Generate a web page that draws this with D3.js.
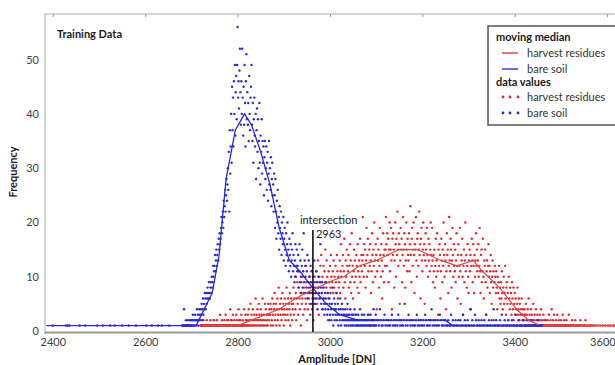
<!DOCTYPE html>
<html>
<head>
<meta charset="utf-8">
<script src="https://cdn.jsdelivr.net/npm/d3@7"></script>
<style>
  body { margin: 0; background: #fff; }
  svg { display: block; font-family: Lato, "Open Sans", sans-serif; }
</style>
</head>
<body>
<svg id="chart" width="615" height="365"></svg>
<script>
// tick labels
const xTicks = [2400, 2600, 2800, 3000, 3200, 3400, 3600];
const yTicks = [0, 10, 20, 30, 40, 50];

// bare soil: isolated single counts in the low tail (frequency 1)
const bareSoilSparseDN = [2400, 2428, 2432, 2436, 2458, 2470, 2496, 2508, 2524, 2534,
  2550, 2564, 2580, 2602, 2614, 2628, 2636, 2652];

// bare soil: one value per DN from 2680 to 3099
const bareSoilStart = 2680;
const bareSoilFreq = [
  1,1,0,1,4,1,1,1,2,1, 1,1,2,1,1,1,2,1,1,2, 1,2,1,3,2,1,2,1,3,2, 2,1,4,2,3,1,2,4,3,2, 4,3,5,2,4,6,3,5,4,7,
  6,4,7,5,6,8,7,6,9,7, 6,8,9,7,10,8,9,12,10,11, 12,14,11,13,15,12,14,16,13,17, 15,18,16,17,19,21,18,20,22,19, 24,21,23,26,22,25,28,24,27,30,
  26,33,22,37,29,34,40,31,45,37, 43,34,46,40,49,36,44,47,39,49, 56,43,46,41,48,52,44,38,46,40, 52,43,36,45,38,49,42,34,46,51, 39,44,38,42,35,47,40,37,43,45,
  49,38,35,42,31,39,43,36,34,40, 28,37,41,33,39,30,35,42,31,27, 36,33,39,29,35,31,34,25,32,35, 28,30,34,26,31,33,24,29,35,27, 30,26,32,23,28,31,25,27,22,29,
  25,19,28,22,17,24,20,26,18,21, 15,23,19,17,22,14,20,18,16,21, 13,17,19,15,12,18,14,16,20,13, 15,11,17,14,12,16,10,13,15,18, 11,14,12,9,13,16,10,12,15,11,
  12,14,8,11,16,9,13,10,7,12, 15,8,11,18,9,13,7,10,12,8, 11,14,6,9,13,7,10,8,12,5, 9,11,7,10,6,8,13,9,5,7, 11,6,9,4,8,10,7,6,9,16,
  8,5,7,9,4,6,8,5,3,7, 4,6,9,5,3,7,4,6,2,5, 3,7,4,2,5,8,3,1,4,6, 2,5,3,4,7,2,3,5,1,4, 3,2,6,4,1,3,5,2,4,3,
  2,3,1,4,2,3,1,2,5,3, 2,1,3,2,4,1,2,3,1,2, 3,1,2,4,2,1,3,2,1,2, 1,3,2,1,2,4,1,2,1,3, 2,1,2,1,3,2,1,2,1,2,
  2,1,3,2,1,2,1,1,3,2, 1,2,2,1,4,2,1,1,2,3
];

// bare soil: every 2nd DN from 3100 to 3460
const bareSoilTailStart = 3100;
const bareSoilTailFreq = [
  1,2,2,1,4,2,1,1,2,3,1,2,1,2,1,
  1,2,3,1,2,1,1,2,1,3,2,1,2,1,1,2,5,1,2,1,3,2,1,2,1,
  2,1,1,2,3,1,2,1,2,1,1,2,1,3,2,1,1,2,1,2,4,1,2,1,2,
  1,1,2,1,3,2,1,1,2,1,2,1,1,2,1,1,3,1,2,1,1,2,1,1,2,
  1,2,1,1,3,1,2,1,1,2,1,1,4,1,2,1,1,3,2,1,1,2,1,1,2,
  1,1,2,1,3,1,1,2,1,1,2,1,4,1,1,2,1,1,1,2,1,3,1,1,2,
  1,1,1,2,1,1,1,2,1,1,1,3,1,1,2,1,1,1,1,2,1,1,1,1,2,
  1,1,1,2,1,1,1,1,1,1,2,1,1,1,1,1
];

// harvest residues: one value per DN from 2720 to 3617
const residueStart = 2720;
const residueFreq = [
  1,1,1,1,1,1,2,1,1,1, 1,1,1,2,1,1,1,1,1,1, 1,2,1,1,1,1,1,1,2,2, 1,1,1,1,1,2,1,1,1,1, 1,1,3,1,1,1,2,1,1,1,
  1,2,1,1,3,1,1,2,1,1, 2,1,1,1,4,1,2,2,1,1, 3,1,1,2,1,1,1,3,1,2, 1,1,4,2,1,1,2,1,3,1, 1,2,1,1,4,1,1,3,2,1,
  2,1,3,1,4,2,1,2,5,1, 3,2,1,4,1,2,3,1,2,6, 1,3,2,4,1,2,5,3,1,2, 4,1,3,2,6,1,2,3,1,5, 2,4,1,3,2,1,5,3,2,4,
  3,5,1,4,2,6,3,1,5,4, 7,2,3,5,1,4,6,2,3,8, 4,1,5,3,6,2,4,7,3,5, 1,4,6,3,2,5,8,4,3,6, 2,5,4,7,1,3,6,5,2,4,
  5,8,3,6,10,4,7,2,6,9, 5,3,8,11,6,4,7,1,9,5, 6,10,3,7,8,4,12,6,5,9, 2,7,4,8,6,10,5,3,9,7, 11,4,6,8,2,7,5,10,6,8,
  7,11,5,9,13,8,3,10,6,12, 9,14,7,4,10,8,12,6,11,9, 15,5,8,13,10,7,2,11,9,6, 12,8,14,10,5,9,11,7,13,8, 10,4,12,9,7,14,11,6,10,8,
  9,13,7,11,16,10,5,12,14,8, 11,17,9,6,13,10,15,12,4,11, 14,8,12,16,9,13,7,18,10,12, 6,11,15,9,13,3,10,14,12,8, 16,11,7,13,10,17,9,12,14,11,
  13,21,14,10,16,12,15,8,13,19, 10,14,17,11,3,15,12,16,13,7, 11,18,14,9,15,12,20,13,10,16, 14,4,11,17,13,15,8,12,19,14, 10,16,13,6,11,18,14,9,15,12,
  15,21,16,12,18,14,17,9,15,20, 11,15,19,13,4,17,14,18,15,8, 13,20,16,10,17,14,22,15,12,18, 16,5,13,19,15,17,9,14,21,15, 12,18,16,8,13,20,15,11,17,14,
  13,18,11,16,23,14,9,17,19,12, 15,20,14,7,16,15,21,13,10,17, 18,12,15,22,14,16,6,17,19,13, 11,15,20,14,16,5,13,18,15,12, 19,14,10,17,13,16,11,15,20,14,
  12,19,13,9,14,11,15,8,12,17, 10,13,18,11,3,15,12,16,14,6, 11,17,13,9,15,12,20,14,10,16, 13,4,11,18,14,15,7,12,21,13, 11,17,15,8,13,19,14,10,16,12,
  11,15,9,13,18,12,6,14,16,10, 12,19,11,5,14,13,17,10,3,12, 15,9,13,20,11,14,8,12,16,10, 7,13,15,11,14,4,12,17,13,9, 16,12,7,14,10,13,18,12,15,11,
  13,16,10,12,19,11,7,14,15,9, 11,17,10,6,13,12,15,9,3,11, 13,8,12,16,10,12,7,11,14,9, 5,10,13,8,11,2,9,12,10,7, 11,8,4,10,7,9,12,6,8,5,
  9,6,11,7,4,8,10,5,7,12, 6,3,8,9,5,7,2,10,6,4, 8,5,7,3,9,6,4,8,2,5, 7,3,6,4,1,5,8,3,4,6, 2,5,3,4,1,6,3,2,4,3,
  2,4,3,1,5,2,3,1,4,2, 6,1,3,2,2,4,1,3,1,2, 5,1,2,3,1,1,4,2,1,3, 1,2,1,1,3,2,1,4,1,2, 1,1,3,1,2,1,1,2,1,1,
  1,2,1,1,3,1,1,2,1,1, 4,1,1,2,1,3,1,1,1,2, 1,1,3,1,1,2,1,1,1,1, 2,1,1,1,3,1,1,2,1,1, 1,1,2,1,1,1,1,3,1,1,
  1,1,0,1,2,1,0,1,1,0, 1,2,0,1,1,0,1,0,1,1, 0,1,2,0,1,0,1,1,0,0, 1,0,1,2,0,1,0,0,1,0, 1,0,0,1,0,1,0,0,1,0,
  0,1,0,0,0,1,0,0,0,0, 1,0,0,0,0,1,0,0,0,0, 0,1,0,0,0,0,1,0,0,0, 0,0,1,0,0,0,0,1,0,0, 0,0,0,1,0,0,1,0
];

// moving medians [DN, frequency]
const bareSoilMedian = [[2386,1],[2710,1],[2745,7],[2760,14],[2775,28],[2795,37],[2815,40],
  [2830,38],[2850,33],[2870,27],[2890,19],[2912,13],[2935,11],[2962,8],[2992,5],[3021,3],
  [3060,2],[3250,2],[3265,1],[3460,1]];
const residueMedian = [[2724,1],[2800,1],[2830,2],[2860,3],[2890,4],[2925,6],[2960,7.5],
  [3005,9.3],[3030,10],[3064,12],[3100,13],[3150,15],[3190,15],[3215,14],[3240,13],[3275,12],
  [3310,13],[3330,11],[3367,8],[3404,4],[3430,2],[3455,1],[3617,1]];

const intersectionDN = 2963;

const blue = "#2a2ad6", red = "#e3282c";

const svg = d3.select("#chart");

const x = d3.scaleLinear().domain([2383, 3617]).range([45, 615]);
const y = d3.scaleLinear().domain([0, 58.4]).range([331, 14]);

function toPoints(start, step, freq) {
  return freq.map((f, i) => ({ dn: start + i * step, f: f })).filter(d => d.f > 0);
}
const bareSoilPts = bareSoilSparseDN.map(dn => ({ dn: dn, f: 1 }))
  .concat(toPoints(bareSoilStart, 1, bareSoilFreq))
  .concat(toPoints(bareSoilTailStart, 2, bareSoilTailFreq));
const residuePts = toPoints(residueStart, 1, residueFreq);

// frame
svg.append("line").attr("x1", 45).attr("x2", 615).attr("y1", 14).attr("y2", 14)
  .attr("stroke", "#aaa").attr("stroke-width", 1);
svg.append("line").attr("x1", 45).attr("x2", 45).attr("y1", 14).attr("y2", 332)
  .attr("stroke", "#aaa").attr("stroke-width", 1);

// top ticks
svg.append("g").attr("transform", "translate(0,14)")
  .call(d3.axisTop(x).tickValues(xTicks).tickSize(-3).tickFormat(""))
  .call(g => g.select(".domain").remove())
  .call(g => g.selectAll("line").attr("stroke", "#999"));

// bottom axis
svg.append("g").attr("transform", "translate(0,332)")
  .call(d3.axisBottom(x).tickValues(xTicks).tickSize(2).tickPadding(4).tickFormat(d3.format("d")))
  .call(g => g.select(".domain").attr("stroke", "#999").attr("stroke-width", 2))
  .call(g => g.selectAll("line").attr("stroke", "#999"))
  .call(g => g.selectAll("text").attr("font-size", 11).attr("fill", "#404040").attr("font-family", "Lato, sans-serif"))
  .call(g => g.selectAll("text").filter(d => d === 3600).attr("text-anchor", "end").attr("x", 8));

// left axis
svg.append("g").attr("transform", "translate(45,0)")
  .call(d3.axisLeft(y).tickValues(yTicks).tickSize(0).tickPadding(6))
  .call(g => g.select(".domain").remove())
  .call(g => g.selectAll("text").attr("font-size", 11).attr("fill", "#404040").attr("font-family", "Lato, sans-serif"));

// dots
svg.append("g").selectAll("circle").data(residuePts).join("circle")
  .attr("cx", d => x(d.dn)).attr("cy", d => y(d.f)).attr("r", 1.2).attr("fill", red);
svg.append("g").selectAll("circle").data(bareSoilPts).join("circle")
  .attr("cx", d => x(d.dn)).attr("cy", d => y(d.f)).attr("r", 1.2).attr("fill", blue);

// medians
const line = d3.line().x(d => x(d[0])).y(d => y(d[1]));
svg.append("path").datum(residueMedian).attr("d", line)
  .attr("fill", "none").attr("stroke", "#e04848").attr("stroke-width", 1.2);
svg.append("path").datum(bareSoilMedian).attr("d", line)
  .attr("fill", "none").attr("stroke", "#2a2ad0").attr("stroke-width", 1.3);

// intersection
svg.append("line").attr("x1", x(intersectionDN)).attr("x2", x(intersectionDN))
  .attr("y1", 230).attr("y2", 332).attr("stroke", "#111").attr("stroke-width", 1.6);
svg.append("text").attr("x", x(intersectionDN) - 13).attr("y", 224)
  .attr("font-size", 11).attr("fill", "#222").text("intersection");
svg.append("text").attr("x", x(intersectionDN) + 3).attr("y", 238)
  .attr("font-size", 11).attr("fill", "#222").text(intersectionDN);

// titles
svg.append("text").attr("x", 57).attr("y", 38).attr("font-size", 11)
  .attr("font-weight", "bold").attr("fill", "#1a1a1a").text("Training Data");
svg.append("text").attr("transform", "translate(17,172) rotate(-90)")
  .attr("text-anchor", "middle").attr("font-size", 11).attr("font-weight", "bold")
  .attr("fill", "#1a1a1a").text("Frequency");
svg.append("text").attr("x", 337).attr("y", 363).attr("text-anchor", "middle")
  .attr("font-size", 11).attr("font-weight", "bold").attr("fill", "#1a1a1a").text("Amplitude [DN]");

// legend
const lg = svg.append("g").attr("transform", "translate(488,26)");
lg.append("rect").attr("width", 130).attr("height", 99).attr("fill", "#fff")
  .attr("stroke", "#555").attr("stroke-width", 1.5);
lg.append("text").attr("x", 8).attr("y", 15).attr("font-size", 11).attr("font-weight", "bold")
  .attr("fill", "#1a1a1a").text("moving median");
const lineItems = [["harvest residues", "#e05050", 27], ["bare soil", "#4a4ad0", 43]];
lineItems.forEach(([label, col, yy]) => {
  lg.append("line").attr("x1", 14).attr("x2", 30).attr("y1", yy).attr("y2", yy)
    .attr("stroke", col).attr("stroke-width", 1.6);
  lg.append("text").attr("x", 39).attr("y", yy + 4).attr("font-size", 11)
    .attr("fill", "#333").text(label);
});
lg.append("text").attr("x", 8).attr("y", 60).attr("font-size", 11).attr("font-weight", "bold")
  .attr("fill", "#1a1a1a").text("data values");
const dotItems = [["harvest residues", red, 71], ["bare soil", blue, 87]];
dotItems.forEach(([label, col, yy]) => {
  [15, 22, 30].forEach(dx => lg.append("circle").attr("cx", dx).attr("cy", yy).attr("r", 1.4).attr("fill", col));
  lg.append("text").attr("x", 39).attr("y", yy + 4).attr("font-size", 11)
    .attr("fill", "#333").text(label);
});
</script>
</body>
</html>
